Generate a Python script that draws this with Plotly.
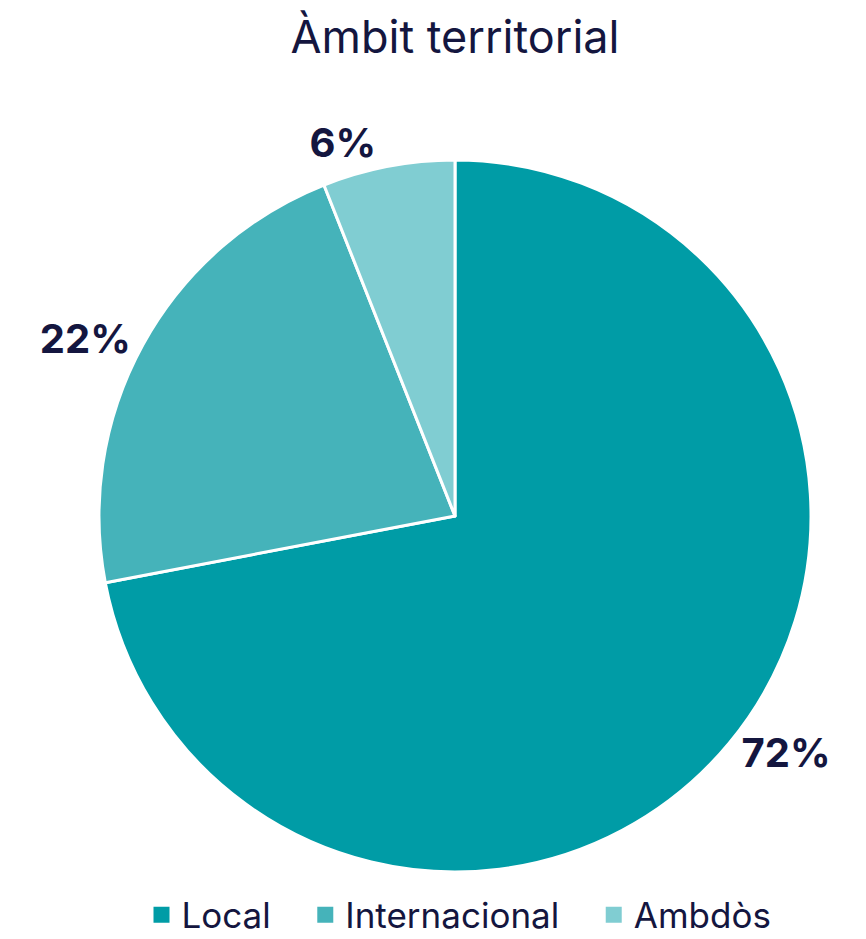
import plotly.graph_objects as go

categories = ["Local", "Internacional", "Ambdòs"]
values = [72, 22, 6]
colors = ["#009ca6", "#45b3ba", "#80cdd2"]

W, H = 866, 939
# page body has an 8px margin, so figure coords = window coords - 8
cx, cy, r = 447, 508, 356

fig = go.Figure()
fig.add_trace(go.Pie(
    labels=categories,
    values=values,
    sort=False,
    direction="clockwise",
    rotation=0,
    marker=dict(colors=colors, line=dict(color="white", width=3)),
    textinfo="percent",
    texttemplate="%{percent:.0%}",
    textposition="outside",
    textfont=dict(family="Inter", size=40, color="#14163f", weight="bold"),
    domain=dict(x=[(cx - r) / W, (cx + r) / W], y=[1 - (cy + r) / H, 1 - (cy - r) / H]),
    hoverinfo="label+percent",
    automargin=False,
    showlegend=False,
))

# legend entries with larger square swatches (trailing no-break spaces widen the gap between items)
pad = "\u00a0\u00a0\u00a0"
for i, (name, col) in enumerate(zip(categories, colors)):
    fig.add_trace(go.Scatter(
        x=[None], y=[None], mode="markers",
        name=name + (pad if i < len(categories) - 1 else ""),
        marker=dict(symbol="square", size=19, color=col, line=dict(width=0)),
        showlegend=True, hoverinfo="skip",
    ))

fig.update_layout(
    width=W, height=H,
    margin=dict(l=0, r=0, t=0, b=0, autoexpand=False),
    paper_bgcolor="white",
    plot_bgcolor="white",
    xaxis=dict(visible=False),
    yaxis=dict(visible=False),
    title=dict(text="Àmbit territorial", x=447 / W, xanchor="center", y=1 - 29 / H, yanchor="middle",
               font=dict(family="Inter", size=45, color="#14163f")),
    showlegend=True,
    legend=dict(orientation="h", x=451 / W, xanchor="center", y=1 - 907 / H, yanchor="middle",
                font=dict(family="Inter", size=35, color="#14163f"), itemwidth=30,
                itemsizing="trace", tracegroupgap=0),
)

fig.write_html("out.html")
